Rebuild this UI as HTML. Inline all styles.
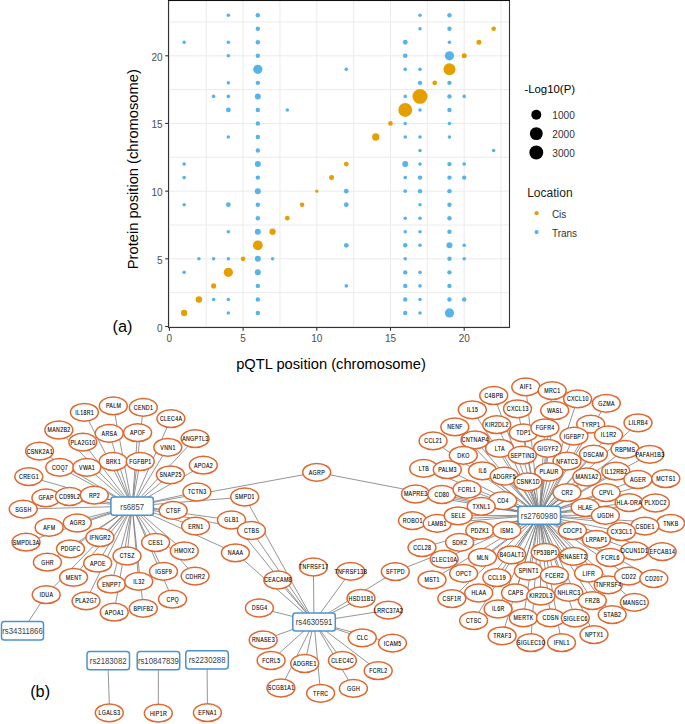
<!DOCTYPE html>
<html><head><meta charset="utf-8"><style>
html,body{margin:0;padding:0;background:#fff;}
body{width:685px;height:724px;overflow:hidden;}
svg{display:block;font-family:"Liberation Sans",sans-serif;}
</style></head><body>
<svg width="685" height="724" viewBox="0 0 685 724">
<rect x="168.5" y="0.5" width="341.0" height="327.0" fill="#fff"/>
<g stroke="#EBEBEB" stroke-width="1"><line x1="169.40" y1="0.5" x2="169.40" y2="327.5"/><line x1="206.25" y1="0.5" x2="206.25" y2="327.5"/><line x1="243.10" y1="0.5" x2="243.10" y2="327.5"/><line x1="279.95" y1="0.5" x2="279.95" y2="327.5"/><line x1="316.80" y1="0.5" x2="316.80" y2="327.5"/><line x1="353.65" y1="0.5" x2="353.65" y2="327.5"/><line x1="390.50" y1="0.5" x2="390.50" y2="327.5"/><line x1="427.35" y1="0.5" x2="427.35" y2="327.5"/><line x1="464.20" y1="0.5" x2="464.20" y2="327.5"/><line x1="501.05" y1="0.5" x2="501.05" y2="327.5"/><line x1="168.5" y1="326.50" x2="509.5" y2="326.50"/><line x1="168.5" y1="292.66" x2="509.5" y2="292.66"/><line x1="168.5" y1="258.82" x2="509.5" y2="258.82"/><line x1="168.5" y1="224.99" x2="509.5" y2="224.99"/><line x1="168.5" y1="191.15" x2="509.5" y2="191.15"/><line x1="168.5" y1="157.31" x2="509.5" y2="157.31"/><line x1="168.5" y1="123.47" x2="509.5" y2="123.47"/><line x1="168.5" y1="89.64" x2="509.5" y2="89.64"/><line x1="168.5" y1="55.80" x2="509.5" y2="55.80"/><line x1="168.5" y1="21.96" x2="509.5" y2="21.96"/></g>
<circle cx="184.14" cy="42.26" r="1.80" fill="#56B4E9"/><circle cx="184.14" cy="164.08" r="1.80" fill="#56B4E9"/><circle cx="184.14" cy="177.62" r="1.80" fill="#56B4E9"/><circle cx="184.14" cy="204.69" r="1.80" fill="#56B4E9"/><circle cx="184.14" cy="272.36" r="1.80" fill="#56B4E9"/><circle cx="198.88" cy="258.82" r="1.80" fill="#56B4E9"/><circle cx="213.62" cy="96.41" r="1.80" fill="#56B4E9"/><circle cx="213.62" cy="258.82" r="1.80" fill="#56B4E9"/><circle cx="213.62" cy="299.43" r="1.80" fill="#56B4E9"/><circle cx="228.36" cy="15.19" r="1.80" fill="#56B4E9"/><circle cx="228.36" cy="42.26" r="1.80" fill="#56B4E9"/><circle cx="228.36" cy="55.80" r="1.80" fill="#56B4E9"/><circle cx="228.36" cy="82.87" r="1.80" fill="#56B4E9"/><circle cx="228.36" cy="96.41" r="1.80" fill="#56B4E9"/><circle cx="228.36" cy="109.94" r="2.40" fill="#56B4E9"/><circle cx="228.36" cy="137.01" r="1.80" fill="#56B4E9"/><circle cx="228.36" cy="204.69" r="2.40" fill="#56B4E9"/><circle cx="228.36" cy="231.75" r="1.80" fill="#56B4E9"/><circle cx="228.36" cy="258.82" r="1.80" fill="#56B4E9"/><circle cx="228.36" cy="299.43" r="1.80" fill="#56B4E9"/><circle cx="228.36" cy="312.96" r="1.80" fill="#56B4E9"/><circle cx="257.84" cy="15.19" r="2.20" fill="#56B4E9"/><circle cx="257.84" cy="28.73" r="2.20" fill="#56B4E9"/><circle cx="257.84" cy="42.26" r="2.20" fill="#56B4E9"/><circle cx="257.84" cy="55.80" r="2.20" fill="#56B4E9"/><circle cx="257.84" cy="69.33" r="4.60" fill="#56B4E9"/><circle cx="257.84" cy="82.87" r="2.20" fill="#56B4E9"/><circle cx="257.84" cy="96.41" r="3.00" fill="#56B4E9"/><circle cx="257.84" cy="109.94" r="2.20" fill="#56B4E9"/><circle cx="257.84" cy="123.47" r="2.20" fill="#56B4E9"/><circle cx="257.84" cy="137.01" r="2.20" fill="#56B4E9"/><circle cx="257.84" cy="150.54" r="2.20" fill="#56B4E9"/><circle cx="257.84" cy="164.08" r="3.00" fill="#56B4E9"/><circle cx="257.84" cy="177.62" r="2.20" fill="#56B4E9"/><circle cx="257.84" cy="191.15" r="3.00" fill="#56B4E9"/><circle cx="257.84" cy="204.69" r="2.20" fill="#56B4E9"/><circle cx="257.84" cy="218.22" r="2.20" fill="#56B4E9"/><circle cx="257.84" cy="231.75" r="3.00" fill="#56B4E9"/><circle cx="257.84" cy="258.82" r="3.00" fill="#56B4E9"/><circle cx="257.84" cy="272.36" r="3.00" fill="#56B4E9"/><circle cx="257.84" cy="285.89" r="2.20" fill="#56B4E9"/><circle cx="257.84" cy="299.43" r="2.20" fill="#56B4E9"/><circle cx="257.84" cy="312.96" r="2.20" fill="#56B4E9"/><circle cx="272.58" cy="258.82" r="1.80" fill="#56B4E9"/><circle cx="287.32" cy="109.94" r="1.80" fill="#56B4E9"/><circle cx="346.28" cy="69.33" r="1.80" fill="#56B4E9"/><circle cx="346.28" cy="191.15" r="2.35" fill="#56B4E9"/><circle cx="346.28" cy="204.69" r="2.35" fill="#56B4E9"/><circle cx="346.28" cy="245.29" r="2.35" fill="#56B4E9"/><circle cx="346.28" cy="285.89" r="1.80" fill="#56B4E9"/><circle cx="405.24" cy="42.26" r="2.40" fill="#56B4E9"/><circle cx="405.24" cy="55.80" r="2.30" fill="#56B4E9"/><circle cx="405.24" cy="69.33" r="1.80" fill="#56B4E9"/><circle cx="405.24" cy="96.41" r="1.80" fill="#56B4E9"/><circle cx="405.24" cy="123.47" r="1.80" fill="#56B4E9"/><circle cx="405.24" cy="137.01" r="1.80" fill="#56B4E9"/><circle cx="405.24" cy="164.08" r="3.00" fill="#56B4E9"/><circle cx="405.24" cy="177.62" r="1.80" fill="#56B4E9"/><circle cx="405.24" cy="191.15" r="1.80" fill="#56B4E9"/><circle cx="405.24" cy="218.22" r="1.80" fill="#56B4E9"/><circle cx="405.24" cy="231.75" r="1.80" fill="#56B4E9"/><circle cx="405.24" cy="245.29" r="2.20" fill="#56B4E9"/><circle cx="405.24" cy="258.82" r="1.80" fill="#56B4E9"/><circle cx="405.24" cy="272.36" r="2.20" fill="#56B4E9"/><circle cx="405.24" cy="285.89" r="2.20" fill="#56B4E9"/><circle cx="405.24" cy="299.43" r="2.20" fill="#56B4E9"/><circle cx="405.24" cy="312.96" r="2.20" fill="#56B4E9"/><circle cx="419.98" cy="15.19" r="1.80" fill="#56B4E9"/><circle cx="419.98" cy="28.73" r="1.80" fill="#56B4E9"/><circle cx="419.98" cy="69.33" r="1.80" fill="#56B4E9"/><circle cx="419.98" cy="82.87" r="2.20" fill="#56B4E9"/><circle cx="419.98" cy="109.94" r="1.80" fill="#56B4E9"/><circle cx="419.98" cy="137.01" r="1.80" fill="#56B4E9"/><circle cx="419.98" cy="150.54" r="1.80" fill="#56B4E9"/><circle cx="419.98" cy="164.08" r="1.80" fill="#56B4E9"/><circle cx="419.98" cy="177.62" r="2.20" fill="#56B4E9"/><circle cx="419.98" cy="191.15" r="2.20" fill="#56B4E9"/><circle cx="419.98" cy="204.69" r="1.80" fill="#56B4E9"/><circle cx="419.98" cy="218.22" r="1.80" fill="#56B4E9"/><circle cx="419.98" cy="231.75" r="1.80" fill="#56B4E9"/><circle cx="419.98" cy="245.29" r="1.80" fill="#56B4E9"/><circle cx="419.98" cy="272.36" r="1.80" fill="#56B4E9"/><circle cx="419.98" cy="285.89" r="1.80" fill="#56B4E9"/><circle cx="419.98" cy="299.43" r="1.80" fill="#56B4E9"/><circle cx="419.98" cy="312.96" r="1.80" fill="#56B4E9"/><circle cx="449.46" cy="15.19" r="2.20" fill="#56B4E9"/><circle cx="449.46" cy="28.73" r="2.20" fill="#56B4E9"/><circle cx="449.46" cy="42.26" r="1.80" fill="#56B4E9"/><circle cx="449.46" cy="55.80" r="4.60" fill="#56B4E9"/><circle cx="449.46" cy="82.87" r="2.20" fill="#56B4E9"/><circle cx="449.46" cy="96.41" r="2.20" fill="#56B4E9"/><circle cx="449.46" cy="109.94" r="2.20" fill="#56B4E9"/><circle cx="449.46" cy="123.47" r="1.80" fill="#56B4E9"/><circle cx="449.46" cy="137.01" r="1.80" fill="#56B4E9"/><circle cx="449.46" cy="164.08" r="2.20" fill="#56B4E9"/><circle cx="449.46" cy="177.62" r="2.20" fill="#56B4E9"/><circle cx="449.46" cy="191.15" r="2.20" fill="#56B4E9"/><circle cx="449.46" cy="204.69" r="2.20" fill="#56B4E9"/><circle cx="449.46" cy="218.22" r="2.20" fill="#56B4E9"/><circle cx="449.46" cy="231.75" r="2.20" fill="#56B4E9"/><circle cx="449.46" cy="245.29" r="3.00" fill="#56B4E9"/><circle cx="449.46" cy="258.82" r="2.20" fill="#56B4E9"/><circle cx="449.46" cy="272.36" r="2.20" fill="#56B4E9"/><circle cx="449.46" cy="285.89" r="2.20" fill="#56B4E9"/><circle cx="449.46" cy="299.43" r="2.20" fill="#56B4E9"/><circle cx="449.46" cy="312.96" r="4.60" fill="#56B4E9"/><circle cx="464.20" cy="96.41" r="1.80" fill="#56B4E9"/><circle cx="464.20" cy="164.08" r="1.80" fill="#56B4E9"/><circle cx="464.20" cy="177.62" r="2.20" fill="#56B4E9"/><circle cx="464.20" cy="245.29" r="1.80" fill="#56B4E9"/><circle cx="464.20" cy="258.82" r="1.80" fill="#56B4E9"/><circle cx="464.20" cy="299.43" r="2.20" fill="#56B4E9"/><circle cx="493.68" cy="150.54" r="1.80" fill="#56B4E9"/><circle cx="184.14" cy="312.96" r="3.15" fill="#E69F00"/><circle cx="198.88" cy="299.43" r="3.25" fill="#E69F00"/><circle cx="213.62" cy="285.89" r="2.55" fill="#E69F00"/><circle cx="228.36" cy="272.36" r="4.60" fill="#E69F00"/><circle cx="243.10" cy="258.82" r="2.35" fill="#E69F00"/><circle cx="257.84" cy="245.29" r="4.90" fill="#E69F00"/><circle cx="272.58" cy="231.75" r="3.15" fill="#E69F00"/><circle cx="287.32" cy="218.22" r="2.35" fill="#E69F00"/><circle cx="302.06" cy="204.69" r="2.30" fill="#E69F00"/><circle cx="316.80" cy="191.15" r="1.65" fill="#E69F00"/><circle cx="331.54" cy="177.62" r="2.50" fill="#E69F00"/><circle cx="346.28" cy="164.08" r="2.40" fill="#E69F00"/><circle cx="375.76" cy="137.01" r="3.65" fill="#E69F00"/><circle cx="390.50" cy="123.47" r="2.35" fill="#E69F00"/><circle cx="405.24" cy="109.94" r="6.95" fill="#E69F00"/><circle cx="419.98" cy="96.41" r="7.45" fill="#E69F00"/><circle cx="434.72" cy="82.87" r="2.35" fill="#E69F00"/><circle cx="449.46" cy="69.33" r="6.00" fill="#E69F00"/><circle cx="464.20" cy="55.80" r="2.50" fill="#E69F00"/><circle cx="478.94" cy="42.26" r="2.50" fill="#E69F00"/><circle cx="493.68" cy="28.73" r="2.30" fill="#E69F00"/>
<rect x="168.5" y="0.5" width="341.0" height="327.0" fill="none" stroke="#333" stroke-width="1.1"/>
<line x1="168.0" y1="0.5" x2="510.0" y2="0.5" stroke="#111" stroke-width="1.2"/>
<g stroke="#333" stroke-width="1.1"><line x1="165.2" y1="326.50" x2="168.5" y2="326.50"/><line x1="169.40" y1="327.5" x2="169.40" y2="330.70"/><line x1="165.2" y1="258.82" x2="168.5" y2="258.82"/><line x1="243.10" y1="327.5" x2="243.10" y2="330.70"/><line x1="165.2" y1="191.15" x2="168.5" y2="191.15"/><line x1="316.80" y1="327.5" x2="316.80" y2="330.70"/><line x1="165.2" y1="123.47" x2="168.5" y2="123.47"/><line x1="390.50" y1="327.5" x2="390.50" y2="330.70"/><line x1="165.2" y1="55.80" x2="168.5" y2="55.80"/><line x1="464.20" y1="327.5" x2="464.20" y2="330.70"/></g>
<g font-size="10px" fill="#4D4D4D"><text x="162.6" y="331.50" text-anchor="end">0</text><text x="169.40" y="342" text-anchor="middle">0</text><text x="162.6" y="263.82" text-anchor="end">5</text><text x="243.10" y="342" text-anchor="middle">5</text><text x="162.6" y="196.15" text-anchor="end">10</text><text x="316.80" y="342" text-anchor="middle">10</text><text x="162.6" y="128.47" text-anchor="end">15</text><text x="390.50" y="342" text-anchor="middle">15</text><text x="162.6" y="60.80" text-anchor="end">20</text><text x="464.20" y="342" text-anchor="middle">20</text></g>
<text x="331" y="368.8" text-anchor="middle" font-size="14.7px" fill="#000">pQTL position (chromosome)</text>
<text transform="translate(138.2,169.2) rotate(-90)" text-anchor="middle" font-size="14.7px" fill="#000">Protein position (chromosome)</text>
<text x="112.6" y="332.2" font-size="16.3px" fill="#000">(a)</text>
<text x="30.2" y="697" font-size="16.3px" fill="#000">(b)</text>
<text x="524.4" y="93.4" font-size="11.4px" fill="#000">-Log10(P)</text>
<circle cx="536.3" cy="114.7" r="5.0" fill="#000"/>
<text x="552.3" y="119.0" font-size="10.1px" fill="#333">1000</text>
<circle cx="536.3" cy="133.6" r="6.45" fill="#000"/>
<text x="552.3" y="137.9" font-size="10.1px" fill="#333">2000</text>
<circle cx="536.3" cy="152.5" r="6.95" fill="#000"/>
<text x="552.3" y="156.8" font-size="10.1px" fill="#333">3000</text>
<text x="527.2" y="197.4" font-size="12px" fill="#222">Location</text>
<circle cx="536.6" cy="213.2" r="2.1" fill="#E69F00"/>
<circle cx="536.6" cy="232.1" r="2.1" fill="#56B4E9"/>
<text x="551.9" y="217.7" font-size="10px" fill="#333">Cis</text>
<text x="551.9" y="236.6" font-size="10px" fill="#333">Trans</text>
<g stroke="#7a7a7a" stroke-width="0.8"><line x1="132.2" y1="506.2" x2="84.4" y2="412.3"/><line x1="132.2" y1="506.2" x2="113.3" y2="405.9"/><line x1="132.2" y1="506.2" x2="143.3" y2="407.4"/><line x1="132.2" y1="506.2" x2="170.9" y2="418.6"/><line x1="132.2" y1="506.2" x2="58.8" y2="430.0"/><line x1="132.2" y1="506.2" x2="109.2" y2="433.4"/><line x1="132.2" y1="506.2" x2="137.6" y2="432.7"/><line x1="132.2" y1="506.2" x2="82.8" y2="442.1"/><line x1="132.2" y1="506.2" x2="167.8" y2="447.3"/><line x1="132.2" y1="506.2" x2="195.1" y2="438.6"/><line x1="132.2" y1="506.2" x2="39.6" y2="451.1"/><line x1="132.2" y1="506.2" x2="113.2" y2="461.5"/><line x1="132.2" y1="506.2" x2="140.2" y2="461.5"/><line x1="132.2" y1="506.2" x2="59.8" y2="467.4"/><line x1="132.2" y1="506.2" x2="86.9" y2="467.4"/><line x1="132.2" y1="506.2" x2="203.3" y2="465.2"/><line x1="132.2" y1="506.2" x2="170.4" y2="474.8"/><line x1="132.2" y1="506.2" x2="28.8" y2="476.6"/><line x1="132.2" y1="506.2" x2="196.9" y2="492.0"/><line x1="132.2" y1="506.2" x2="45.9" y2="497.9"/><line x1="132.2" y1="506.2" x2="69.5" y2="496.5"/><line x1="132.2" y1="506.2" x2="94.3" y2="495.2"/><line x1="132.2" y1="506.2" x2="23.2" y2="509.1"/><line x1="132.2" y1="506.2" x2="173.2" y2="510.4"/><line x1="132.2" y1="506.2" x2="49.1" y2="527.4"/><line x1="132.2" y1="506.2" x2="77.3" y2="523.0"/><line x1="132.2" y1="506.2" x2="195.6" y2="526.1"/><line x1="132.2" y1="506.2" x2="26.0" y2="542.2"/><line x1="132.2" y1="506.2" x2="99.9" y2="537.5"/><line x1="132.2" y1="506.2" x2="155.6" y2="542.5"/><line x1="132.2" y1="506.2" x2="70.5" y2="548.8"/><line x1="132.2" y1="506.2" x2="184.3" y2="551.0"/><line x1="132.2" y1="506.2" x2="47.4" y2="562.2"/><line x1="132.2" y1="506.2" x2="127.0" y2="556.0"/><line x1="132.2" y1="506.2" x2="97.7" y2="563.2"/><line x1="132.2" y1="506.2" x2="163.5" y2="571.4"/><line x1="132.2" y1="506.2" x2="195.1" y2="576.1"/><line x1="132.2" y1="506.2" x2="73.6" y2="577.3"/><line x1="132.2" y1="506.2" x2="111.4" y2="584.2"/><line x1="132.2" y1="506.2" x2="138.7" y2="581.4"/><line x1="132.2" y1="506.2" x2="46.2" y2="594.7"/><line x1="132.2" y1="506.2" x2="172.5" y2="599.2"/><line x1="132.2" y1="506.2" x2="86.0" y2="600.9"/><line x1="132.2" y1="506.2" x2="143.3" y2="608.4"/><line x1="132.2" y1="506.2" x2="114.2" y2="612.2"/><line x1="132.2" y1="506.2" x2="244.7" y2="497.0"/><line x1="132.2" y1="506.2" x2="231.5" y2="520.0"/><line x1="132.2" y1="506.2" x2="251.4" y2="530.5"/><line x1="132.2" y1="506.2" x2="235.4" y2="552.8"/><line x1="132.2" y1="506.2" x2="316.7" y2="472.3"/><line x1="314.0" y1="621.9" x2="313.4" y2="567.0"/><line x1="314.0" y1="621.9" x2="350.7" y2="571.4"/><line x1="314.0" y1="621.9" x2="277.8" y2="580.0"/><line x1="314.0" y1="621.9" x2="361.0" y2="598.3"/><line x1="314.0" y1="621.9" x2="259.4" y2="608.0"/><line x1="314.0" y1="621.9" x2="388.3" y2="610.1"/><line x1="314.0" y1="621.9" x2="263.2" y2="640.0"/><line x1="314.0" y1="621.9" x2="362.3" y2="637.8"/><line x1="314.0" y1="621.9" x2="392.5" y2="643.1"/><line x1="314.0" y1="621.9" x2="271.1" y2="660.5"/><line x1="314.0" y1="621.9" x2="304.7" y2="663.5"/><line x1="314.0" y1="621.9" x2="342.4" y2="660.5"/><line x1="314.0" y1="621.9" x2="378.2" y2="670.7"/><line x1="314.0" y1="621.9" x2="280.9" y2="688.0"/><line x1="314.0" y1="621.9" x2="320.6" y2="693.3"/><line x1="314.0" y1="621.9" x2="353.4" y2="688.4"/><line x1="314.0" y1="621.9" x2="244.7" y2="497.0"/><line x1="314.0" y1="621.9" x2="231.5" y2="520.0"/><line x1="314.0" y1="621.9" x2="251.4" y2="530.5"/><line x1="314.0" y1="621.9" x2="235.4" y2="552.8"/><line x1="314.0" y1="621.9" x2="395.3" y2="571.6"/><line x1="539.2" y1="515.2" x2="525.8" y2="386.9"/><line x1="539.2" y1="515.2" x2="552.2" y2="390.6"/><line x1="539.2" y1="515.2" x2="493.7" y2="395.5"/><line x1="539.2" y1="515.2" x2="577.6" y2="398.9"/><line x1="539.2" y1="515.2" x2="606.3" y2="403.3"/><line x1="539.2" y1="515.2" x2="472.3" y2="409.8"/><line x1="539.2" y1="515.2" x2="517.5" y2="408.8"/><line x1="539.2" y1="515.2" x2="554.7" y2="410.5"/><line x1="539.2" y1="515.2" x2="454.8" y2="426.9"/><line x1="539.2" y1="515.2" x2="496.7" y2="424.7"/><line x1="539.2" y1="515.2" x2="523.4" y2="432.9"/><line x1="539.2" y1="515.2" x2="544.9" y2="427.9"/><line x1="539.2" y1="515.2" x2="590.7" y2="424.1"/><line x1="539.2" y1="515.2" x2="608.5" y2="435.0"/><line x1="539.2" y1="515.2" x2="638.0" y2="422.8"/><line x1="539.2" y1="515.2" x2="433.1" y2="440.9"/><line x1="539.2" y1="515.2" x2="475.0" y2="439.8"/><line x1="539.2" y1="515.2" x2="573.9" y2="436.1"/><line x1="539.2" y1="515.2" x2="499.6" y2="448.3"/><line x1="539.2" y1="515.2" x2="547.6" y2="448.3"/><line x1="539.2" y1="515.2" x2="522.3" y2="455.2"/><line x1="539.2" y1="515.2" x2="593.5" y2="454.1"/><line x1="539.2" y1="515.2" x2="625.0" y2="449.3"/><line x1="539.2" y1="515.2" x2="649.8" y2="454.3"/><line x1="539.2" y1="515.2" x2="463.3" y2="455.3"/><line x1="539.2" y1="515.2" x2="567.0" y2="461.2"/><line x1="539.2" y1="515.2" x2="423.7" y2="468.4"/><line x1="539.2" y1="515.2" x2="447.3" y2="469.7"/><line x1="539.2" y1="515.2" x2="482.5" y2="470.8"/><line x1="539.2" y1="515.2" x2="504.1" y2="476.1"/><line x1="539.2" y1="515.2" x2="548.8" y2="472.0"/><line x1="539.2" y1="515.2" x2="527.9" y2="481.8"/><line x1="539.2" y1="515.2" x2="586.8" y2="477.0"/><line x1="539.2" y1="515.2" x2="615.8" y2="471.2"/><line x1="539.2" y1="515.2" x2="637.9" y2="479.5"/><line x1="539.2" y1="515.2" x2="665.8" y2="478.7"/><line x1="539.2" y1="515.2" x2="415.5" y2="494.0"/><line x1="539.2" y1="515.2" x2="441.8" y2="494.5"/><line x1="539.2" y1="515.2" x2="467.0" y2="489.4"/><line x1="539.2" y1="515.2" x2="502.7" y2="500.6"/><line x1="539.2" y1="515.2" x2="567.0" y2="492.6"/><line x1="539.2" y1="515.2" x2="606.2" y2="492.6"/><line x1="539.2" y1="515.2" x2="629.1" y2="502.6"/><line x1="539.2" y1="515.2" x2="655.4" y2="503.0"/><line x1="539.2" y1="515.2" x2="481.2" y2="506.4"/><line x1="539.2" y1="515.2" x2="585.2" y2="507.5"/><line x1="539.2" y1="515.2" x2="605.4" y2="515.4"/><line x1="539.2" y1="515.2" x2="670.6" y2="523.3"/><line x1="539.2" y1="515.2" x2="644.9" y2="526.1"/><line x1="539.2" y1="515.2" x2="412.5" y2="520.6"/><line x1="539.2" y1="515.2" x2="437.2" y2="523.4"/><line x1="539.2" y1="515.2" x2="458.2" y2="515.8"/><line x1="539.2" y1="515.2" x2="479.8" y2="530.4"/><line x1="539.2" y1="515.2" x2="506.8" y2="530.4"/><line x1="539.2" y1="515.2" x2="572.5" y2="530.7"/><line x1="539.2" y1="515.2" x2="621.4" y2="531.7"/><line x1="539.2" y1="515.2" x2="596.4" y2="539.4"/><line x1="539.2" y1="515.2" x2="634.4" y2="551.0"/><line x1="539.2" y1="515.2" x2="662.2" y2="551.6"/><line x1="539.2" y1="515.2" x2="459.6" y2="542.4"/><line x1="539.2" y1="515.2" x2="422.0" y2="547.6"/><line x1="539.2" y1="515.2" x2="444.2" y2="559.1"/><line x1="539.2" y1="515.2" x2="482.5" y2="557.3"/><line x1="539.2" y1="515.2" x2="511.7" y2="554.8"/><line x1="539.2" y1="515.2" x2="545.2" y2="552.3"/><line x1="539.2" y1="515.2" x2="573.4" y2="556.3"/><line x1="539.2" y1="515.2" x2="610.3" y2="557.5"/><line x1="539.2" y1="515.2" x2="432.0" y2="579.8"/><line x1="539.2" y1="515.2" x2="463.6" y2="573.4"/><line x1="539.2" y1="515.2" x2="496.8" y2="577.6"/><line x1="539.2" y1="515.2" x2="528.4" y2="571.0"/><line x1="539.2" y1="515.2" x2="554.4" y2="575.4"/><line x1="539.2" y1="515.2" x2="588.6" y2="573.2"/><line x1="539.2" y1="515.2" x2="608.2" y2="584.9"/><line x1="539.2" y1="515.2" x2="628.6" y2="576.1"/><line x1="539.2" y1="515.2" x2="653.8" y2="578.6"/><line x1="539.2" y1="515.2" x2="451.8" y2="598.6"/><line x1="539.2" y1="515.2" x2="478.7" y2="593.0"/><line x1="539.2" y1="515.2" x2="515.5" y2="593.0"/><line x1="539.2" y1="515.2" x2="540.8" y2="596.0"/><line x1="539.2" y1="515.2" x2="568.7" y2="592.4"/><line x1="539.2" y1="515.2" x2="592.3" y2="600.6"/><line x1="539.2" y1="515.2" x2="634.4" y2="602.4"/><line x1="539.2" y1="515.2" x2="612.2" y2="614.6"/><line x1="539.2" y1="515.2" x2="498.1" y2="609.0"/><line x1="539.2" y1="515.2" x2="473.6" y2="620.6"/><line x1="539.2" y1="515.2" x2="523.4" y2="617.9"/><line x1="539.2" y1="515.2" x2="550.5" y2="617.9"/><line x1="539.2" y1="515.2" x2="575.3" y2="618.1"/><line x1="539.2" y1="515.2" x2="594.0" y2="634.6"/><line x1="539.2" y1="515.2" x2="502.1" y2="635.8"/><line x1="539.2" y1="515.2" x2="530.8" y2="642.7"/><line x1="539.2" y1="515.2" x2="561.5" y2="642.7"/><line x1="539.2" y1="515.2" x2="316.7" y2="472.3"/><line x1="539.2" y1="515.2" x2="395.3" y2="571.6"/><line x1="22.5" y1="630.7" x2="46.2" y2="594.7"/><line x1="108.2" y1="670.2" x2="109.3" y2="704.0"/><line x1="158.4" y1="670.2" x2="158.3" y2="704.2"/><line x1="207.1" y1="669.3" x2="207.4" y2="703.8"/></g>
<g fill="#fff" stroke="#DE6830" stroke-width="1.5"><ellipse cx="84.4" cy="412.3" rx="13.95" ry="8.90"/><ellipse cx="113.3" cy="405.9" rx="13.95" ry="8.90"/><ellipse cx="143.3" cy="407.4" rx="13.95" ry="8.90"/><ellipse cx="170.9" cy="418.6" rx="13.95" ry="8.90"/><ellipse cx="58.8" cy="430.0" rx="13.95" ry="8.90"/><ellipse cx="109.2" cy="433.4" rx="13.95" ry="8.90"/><ellipse cx="137.6" cy="432.7" rx="13.95" ry="8.90"/><ellipse cx="82.8" cy="442.1" rx="13.95" ry="8.90"/><ellipse cx="167.8" cy="447.3" rx="13.95" ry="8.90"/><ellipse cx="195.1" cy="438.6" rx="13.95" ry="8.90"/><ellipse cx="39.6" cy="451.1" rx="13.95" ry="8.90"/><ellipse cx="113.2" cy="461.5" rx="13.95" ry="8.90"/><ellipse cx="140.2" cy="461.5" rx="13.95" ry="8.90"/><ellipse cx="59.8" cy="467.4" rx="13.95" ry="8.90"/><ellipse cx="86.9" cy="467.4" rx="13.95" ry="8.90"/><ellipse cx="203.3" cy="465.2" rx="13.95" ry="8.90"/><ellipse cx="170.4" cy="474.8" rx="13.95" ry="8.90"/><ellipse cx="28.8" cy="476.6" rx="13.95" ry="8.90"/><ellipse cx="196.9" cy="492.0" rx="13.95" ry="8.90"/><ellipse cx="45.9" cy="497.9" rx="13.95" ry="8.90"/><ellipse cx="69.5" cy="496.5" rx="13.95" ry="8.90"/><ellipse cx="94.3" cy="495.2" rx="13.95" ry="8.90"/><ellipse cx="23.2" cy="509.1" rx="13.95" ry="8.90"/><ellipse cx="173.2" cy="510.4" rx="13.95" ry="8.90"/><ellipse cx="49.1" cy="527.4" rx="13.95" ry="8.90"/><ellipse cx="77.3" cy="523.0" rx="13.95" ry="8.90"/><ellipse cx="195.6" cy="526.1" rx="13.95" ry="8.90"/><ellipse cx="26.0" cy="542.2" rx="13.95" ry="8.90"/><ellipse cx="99.9" cy="537.5" rx="13.95" ry="8.90"/><ellipse cx="155.6" cy="542.5" rx="13.95" ry="8.90"/><ellipse cx="70.5" cy="548.8" rx="13.95" ry="8.90"/><ellipse cx="184.3" cy="551.0" rx="13.95" ry="8.90"/><ellipse cx="47.4" cy="562.2" rx="13.95" ry="8.90"/><ellipse cx="127.0" cy="556.0" rx="13.95" ry="8.90"/><ellipse cx="97.7" cy="563.2" rx="13.95" ry="8.90"/><ellipse cx="163.5" cy="571.4" rx="13.95" ry="8.90"/><ellipse cx="195.1" cy="576.1" rx="13.95" ry="8.90"/><ellipse cx="73.6" cy="577.3" rx="13.95" ry="8.90"/><ellipse cx="111.4" cy="584.2" rx="13.95" ry="8.90"/><ellipse cx="138.7" cy="581.4" rx="13.95" ry="8.90"/><ellipse cx="46.2" cy="594.7" rx="13.95" ry="8.90"/><ellipse cx="172.5" cy="599.2" rx="13.95" ry="8.90"/><ellipse cx="86.0" cy="600.9" rx="13.95" ry="8.90"/><ellipse cx="143.3" cy="608.4" rx="13.95" ry="8.90"/><ellipse cx="114.2" cy="612.2" rx="13.95" ry="8.90"/><ellipse cx="244.7" cy="497.0" rx="13.95" ry="8.90"/><ellipse cx="231.5" cy="520.0" rx="13.95" ry="8.90"/><ellipse cx="251.4" cy="530.5" rx="13.95" ry="8.90"/><ellipse cx="235.4" cy="552.8" rx="13.95" ry="8.90"/><ellipse cx="316.7" cy="472.3" rx="13.95" ry="8.90"/><ellipse cx="313.4" cy="567.0" rx="13.95" ry="8.90"/><ellipse cx="350.7" cy="571.4" rx="13.95" ry="8.90"/><ellipse cx="277.8" cy="580.0" rx="13.95" ry="8.90"/><ellipse cx="361.0" cy="598.3" rx="13.95" ry="8.90"/><ellipse cx="259.4" cy="608.0" rx="13.95" ry="8.90"/><ellipse cx="388.3" cy="610.1" rx="13.95" ry="8.90"/><ellipse cx="263.2" cy="640.0" rx="13.95" ry="8.90"/><ellipse cx="362.3" cy="637.8" rx="13.95" ry="8.90"/><ellipse cx="392.5" cy="643.1" rx="13.95" ry="8.90"/><ellipse cx="271.1" cy="660.5" rx="13.95" ry="8.90"/><ellipse cx="304.7" cy="663.5" rx="13.95" ry="8.90"/><ellipse cx="342.4" cy="660.5" rx="13.95" ry="8.90"/><ellipse cx="378.2" cy="670.7" rx="13.95" ry="8.90"/><ellipse cx="280.9" cy="688.0" rx="13.95" ry="8.90"/><ellipse cx="320.6" cy="693.3" rx="13.95" ry="8.90"/><ellipse cx="353.4" cy="688.4" rx="13.95" ry="8.90"/><ellipse cx="395.3" cy="571.6" rx="13.95" ry="8.90"/><ellipse cx="525.8" cy="386.9" rx="13.95" ry="8.90"/><ellipse cx="552.2" cy="390.6" rx="13.95" ry="8.90"/><ellipse cx="493.7" cy="395.5" rx="13.95" ry="8.90"/><ellipse cx="577.6" cy="398.9" rx="13.95" ry="8.90"/><ellipse cx="606.3" cy="403.3" rx="13.95" ry="8.90"/><ellipse cx="472.3" cy="409.8" rx="13.95" ry="8.90"/><ellipse cx="517.5" cy="408.8" rx="13.95" ry="8.90"/><ellipse cx="554.7" cy="410.5" rx="13.95" ry="8.90"/><ellipse cx="454.8" cy="426.9" rx="13.95" ry="8.90"/><ellipse cx="496.7" cy="424.7" rx="13.95" ry="8.90"/><ellipse cx="523.4" cy="432.9" rx="13.95" ry="8.90"/><ellipse cx="544.9" cy="427.9" rx="13.95" ry="8.90"/><ellipse cx="590.7" cy="424.1" rx="13.95" ry="8.90"/><ellipse cx="608.5" cy="435.0" rx="13.95" ry="8.90"/><ellipse cx="638.0" cy="422.8" rx="13.95" ry="8.90"/><ellipse cx="433.1" cy="440.9" rx="13.95" ry="8.90"/><ellipse cx="475.0" cy="439.8" rx="13.95" ry="8.90"/><ellipse cx="573.9" cy="436.1" rx="13.95" ry="8.90"/><ellipse cx="499.6" cy="448.3" rx="13.95" ry="8.90"/><ellipse cx="547.6" cy="448.3" rx="13.95" ry="8.90"/><ellipse cx="522.3" cy="455.2" rx="13.95" ry="8.90"/><ellipse cx="593.5" cy="454.1" rx="13.95" ry="8.90"/><ellipse cx="625.0" cy="449.3" rx="13.95" ry="8.90"/><ellipse cx="649.8" cy="454.3" rx="13.95" ry="8.90"/><ellipse cx="463.3" cy="455.3" rx="13.95" ry="8.90"/><ellipse cx="567.0" cy="461.2" rx="13.95" ry="8.90"/><ellipse cx="423.7" cy="468.4" rx="13.95" ry="8.90"/><ellipse cx="447.3" cy="469.7" rx="13.95" ry="8.90"/><ellipse cx="482.5" cy="470.8" rx="13.95" ry="8.90"/><ellipse cx="504.1" cy="476.1" rx="13.95" ry="8.90"/><ellipse cx="548.8" cy="472.0" rx="13.95" ry="8.90"/><ellipse cx="527.9" cy="481.8" rx="13.95" ry="8.90"/><ellipse cx="586.8" cy="477.0" rx="13.95" ry="8.90"/><ellipse cx="615.8" cy="471.2" rx="13.95" ry="8.90"/><ellipse cx="637.9" cy="479.5" rx="13.95" ry="8.90"/><ellipse cx="665.8" cy="478.7" rx="13.95" ry="8.90"/><ellipse cx="415.5" cy="494.0" rx="13.95" ry="8.90"/><ellipse cx="441.8" cy="494.5" rx="13.95" ry="8.90"/><ellipse cx="467.0" cy="489.4" rx="13.95" ry="8.90"/><ellipse cx="502.7" cy="500.6" rx="13.95" ry="8.90"/><ellipse cx="567.0" cy="492.6" rx="13.95" ry="8.90"/><ellipse cx="606.2" cy="492.6" rx="13.95" ry="8.90"/><ellipse cx="629.1" cy="502.6" rx="13.95" ry="8.90"/><ellipse cx="655.4" cy="503.0" rx="13.95" ry="8.90"/><ellipse cx="481.2" cy="506.4" rx="13.95" ry="8.90"/><ellipse cx="585.2" cy="507.5" rx="13.95" ry="8.90"/><ellipse cx="605.4" cy="515.4" rx="13.95" ry="8.90"/><ellipse cx="670.6" cy="523.3" rx="13.95" ry="8.90"/><ellipse cx="644.9" cy="526.1" rx="13.95" ry="8.90"/><ellipse cx="412.5" cy="520.6" rx="13.95" ry="8.90"/><ellipse cx="437.2" cy="523.4" rx="13.95" ry="8.90"/><ellipse cx="458.2" cy="515.8" rx="13.95" ry="8.90"/><ellipse cx="479.8" cy="530.4" rx="13.95" ry="8.90"/><ellipse cx="506.8" cy="530.4" rx="13.95" ry="8.90"/><ellipse cx="572.5" cy="530.7" rx="13.95" ry="8.90"/><ellipse cx="621.4" cy="531.7" rx="13.95" ry="8.90"/><ellipse cx="596.4" cy="539.4" rx="13.95" ry="8.90"/><ellipse cx="634.4" cy="551.0" rx="13.95" ry="8.90"/><ellipse cx="662.2" cy="551.6" rx="13.95" ry="8.90"/><ellipse cx="459.6" cy="542.4" rx="13.95" ry="8.90"/><ellipse cx="422.0" cy="547.6" rx="13.95" ry="8.90"/><ellipse cx="444.2" cy="559.1" rx="13.95" ry="8.90"/><ellipse cx="482.5" cy="557.3" rx="13.95" ry="8.90"/><ellipse cx="511.7" cy="554.8" rx="13.95" ry="8.90"/><ellipse cx="545.2" cy="552.3" rx="13.95" ry="8.90"/><ellipse cx="573.4" cy="556.3" rx="13.95" ry="8.90"/><ellipse cx="610.3" cy="557.5" rx="13.95" ry="8.90"/><ellipse cx="432.0" cy="579.8" rx="13.95" ry="8.90"/><ellipse cx="463.6" cy="573.4" rx="13.95" ry="8.90"/><ellipse cx="496.8" cy="577.6" rx="13.95" ry="8.90"/><ellipse cx="528.4" cy="571.0" rx="13.95" ry="8.90"/><ellipse cx="554.4" cy="575.4" rx="13.95" ry="8.90"/><ellipse cx="588.6" cy="573.2" rx="13.95" ry="8.90"/><ellipse cx="608.2" cy="584.9" rx="13.95" ry="8.90"/><ellipse cx="628.6" cy="576.1" rx="13.95" ry="8.90"/><ellipse cx="653.8" cy="578.6" rx="13.95" ry="8.90"/><ellipse cx="451.8" cy="598.6" rx="13.95" ry="8.90"/><ellipse cx="478.7" cy="593.0" rx="13.95" ry="8.90"/><ellipse cx="515.5" cy="593.0" rx="13.95" ry="8.90"/><ellipse cx="540.8" cy="596.0" rx="13.95" ry="8.90"/><ellipse cx="568.7" cy="592.4" rx="13.95" ry="8.90"/><ellipse cx="592.3" cy="600.6" rx="13.95" ry="8.90"/><ellipse cx="634.4" cy="602.4" rx="13.95" ry="8.90"/><ellipse cx="612.2" cy="614.6" rx="13.95" ry="8.90"/><ellipse cx="498.1" cy="609.0" rx="13.95" ry="8.90"/><ellipse cx="473.6" cy="620.6" rx="13.95" ry="8.90"/><ellipse cx="523.4" cy="617.9" rx="13.95" ry="8.90"/><ellipse cx="550.5" cy="617.9" rx="13.95" ry="8.90"/><ellipse cx="575.3" cy="618.1" rx="13.95" ry="8.90"/><ellipse cx="594.0" cy="634.6" rx="13.95" ry="8.90"/><ellipse cx="502.1" cy="635.8" rx="13.95" ry="8.90"/><ellipse cx="530.8" cy="642.7" rx="13.95" ry="8.90"/><ellipse cx="561.5" cy="642.7" rx="13.95" ry="8.90"/><ellipse cx="109.3" cy="712.8" rx="13.95" ry="8.90"/><ellipse cx="158.3" cy="713.2" rx="13.95" ry="8.90"/><ellipse cx="207.4" cy="712.7" rx="13.95" ry="8.90"/></g>
<g font-size="6.6px" fill="#000" text-anchor="middle" stroke="#000" stroke-width="0.1" letter-spacing="0.4"><text transform="translate(84.6,414.7) scale(0.8,1)">IL18R1</text><text transform="translate(113.5,408.2) scale(0.8,1)">PALM</text><text transform="translate(143.5,409.8) scale(0.8,1)">CEND1</text><text transform="translate(171.1,421.0) scale(0.8,1)">CLEC4A</text><text transform="translate(59.0,432.4) scale(0.8,1)">MAN2B2</text><text transform="translate(109.4,435.8) scale(0.8,1)">ARSA</text><text transform="translate(137.8,435.1) scale(0.8,1)">APOF</text><text transform="translate(83.0,444.5) scale(0.8,1)">PLA2G10</text><text transform="translate(168.0,449.7) scale(0.8,1)">VNN1</text><text transform="translate(195.3,441.0) scale(0.8,1)">ANGPTL3</text><text transform="translate(39.8,453.5) scale(0.8,1)">CSNK2A1</text><text transform="translate(113.4,463.9) scale(0.8,1)">BRK1</text><text transform="translate(140.4,463.9) scale(0.8,1)">FGFBP1</text><text transform="translate(60.0,469.8) scale(0.8,1)">COQ7</text><text transform="translate(87.1,469.8) scale(0.8,1)">VWA1</text><text transform="translate(203.5,467.6) scale(0.8,1)">APOA2</text><text transform="translate(170.6,477.2) scale(0.8,1)">SNAP25</text><text transform="translate(29.0,479.0) scale(0.8,1)">CREG1</text><text transform="translate(197.1,494.4) scale(0.8,1)">TCTN3</text><text transform="translate(46.1,500.2) scale(0.8,1)">GFAP</text><text transform="translate(69.7,498.9) scale(0.8,1)">CD99L2</text><text transform="translate(94.5,497.6) scale(0.8,1)">RP2</text><text transform="translate(23.4,511.5) scale(0.8,1)">SGSH</text><text transform="translate(173.4,512.8) scale(0.8,1)">CTSF</text><text transform="translate(49.3,529.8) scale(0.8,1)">AFM</text><text transform="translate(77.5,525.4) scale(0.8,1)">AGR3</text><text transform="translate(195.8,528.5) scale(0.8,1)">ERN1</text><text transform="translate(26.2,544.6) scale(0.8,1)">SMPDL3A</text><text transform="translate(100.1,539.9) scale(0.8,1)">IFNGR2</text><text transform="translate(155.8,544.9) scale(0.8,1)">CES1</text><text transform="translate(70.7,551.1) scale(0.8,1)">PDGFC</text><text transform="translate(184.5,553.4) scale(0.8,1)">HMOX2</text><text transform="translate(47.6,564.6) scale(0.8,1)">GHR</text><text transform="translate(127.2,558.4) scale(0.8,1)">CTSZ</text><text transform="translate(97.9,565.6) scale(0.8,1)">APOE</text><text transform="translate(163.7,573.8) scale(0.8,1)">IGSF9</text><text transform="translate(195.3,578.5) scale(0.8,1)">CDHR2</text><text transform="translate(73.8,579.6) scale(0.8,1)">MENT</text><text transform="translate(111.6,586.6) scale(0.8,1)">ENPP7</text><text transform="translate(138.9,583.8) scale(0.8,1)">IL32</text><text transform="translate(46.4,597.1) scale(0.8,1)">IDUA</text><text transform="translate(172.7,601.6) scale(0.8,1)">CPQ</text><text transform="translate(86.2,603.2) scale(0.8,1)">PLA2G7</text><text transform="translate(143.5,610.8) scale(0.8,1)">BPIFB2</text><text transform="translate(114.4,614.6) scale(0.8,1)">APOA1</text><text transform="translate(244.9,499.4) scale(0.8,1)">SMPD1</text><text transform="translate(231.7,522.4) scale(0.8,1)">GLB1</text><text transform="translate(251.6,532.9) scale(0.8,1)">CTBS</text><text transform="translate(235.6,555.1) scale(0.8,1)">NAAA</text><text transform="translate(316.9,474.7) scale(0.8,1)">AGRP</text><text transform="translate(313.6,569.4) scale(0.8,1)">TNFRSF17</text><text transform="translate(350.9,573.8) scale(0.8,1)">TNFRSF13B</text><text transform="translate(278.0,582.4) scale(0.8,1)">CEACAM8</text><text transform="translate(361.2,600.6) scale(0.8,1)">HSD11B1</text><text transform="translate(259.6,610.4) scale(0.8,1)">DSG4</text><text transform="translate(388.5,612.5) scale(0.8,1)">LRRC37A2</text><text transform="translate(263.4,642.4) scale(0.8,1)">RNASE3</text><text transform="translate(362.5,640.1) scale(0.8,1)">CLC</text><text transform="translate(392.7,645.5) scale(0.8,1)">ICAM5</text><text transform="translate(271.3,662.9) scale(0.8,1)">FCRL5</text><text transform="translate(304.9,665.9) scale(0.8,1)">ADGRE1</text><text transform="translate(342.6,662.9) scale(0.8,1)">CLEC4C</text><text transform="translate(378.4,673.1) scale(0.8,1)">FCRL2</text><text transform="translate(281.1,690.4) scale(0.8,1)">SCGB1A1</text><text transform="translate(320.8,695.6) scale(0.8,1)">TFRC</text><text transform="translate(353.6,690.8) scale(0.8,1)">GGH</text><text transform="translate(395.5,574.0) scale(0.8,1)">SFTPD</text><text transform="translate(526.0,389.2) scale(0.8,1)">AIF1</text><text transform="translate(552.4,393.0) scale(0.8,1)">MRC1</text><text transform="translate(493.9,397.9) scale(0.8,1)">C4BPB</text><text transform="translate(577.8,401.2) scale(0.8,1)">CXCL10</text><text transform="translate(606.5,405.7) scale(0.8,1)">GZMA</text><text transform="translate(472.5,412.2) scale(0.8,1)">IL15</text><text transform="translate(517.7,411.2) scale(0.8,1)">CXCL13</text><text transform="translate(554.9,412.9) scale(0.8,1)">WASL</text><text transform="translate(455.0,429.2) scale(0.8,1)">NENF</text><text transform="translate(496.9,427.1) scale(0.8,1)">KIR2DL2</text><text transform="translate(523.6,435.2) scale(0.8,1)">TDP1</text><text transform="translate(545.1,430.2) scale(0.8,1)">FGFR4</text><text transform="translate(590.9,426.5) scale(0.8,1)">TYRP1</text><text transform="translate(608.7,437.4) scale(0.8,1)">IL1R2</text><text transform="translate(638.2,425.2) scale(0.8,1)">LILRB4</text><text transform="translate(433.3,443.2) scale(0.8,1)">CCL21</text><text transform="translate(475.2,442.2) scale(0.8,1)">CNTNAP4</text><text transform="translate(574.1,438.5) scale(0.8,1)">IGFBP7</text><text transform="translate(499.8,450.7) scale(0.8,1)">LTA</text><text transform="translate(547.8,450.7) scale(0.8,1)">GIGYF2</text><text transform="translate(522.5,457.6) scale(0.8,1)">SEPTIN3</text><text transform="translate(593.7,456.5) scale(0.8,1)">DSCAM</text><text transform="translate(625.2,451.7) scale(0.8,1)">RBPMS</text><text transform="translate(650.0,456.7) scale(0.8,1)">PAFAH1B3</text><text transform="translate(463.5,457.7) scale(0.8,1)">DKO</text><text transform="translate(567.2,463.6) scale(0.8,1)">NFATC3</text><text transform="translate(423.9,470.8) scale(0.8,1)">LTB</text><text transform="translate(447.5,472.1) scale(0.8,1)">PALM3</text><text transform="translate(482.7,473.2) scale(0.8,1)">IL6</text><text transform="translate(504.3,478.5) scale(0.8,1)">ADGRF5</text><text transform="translate(549.0,474.4) scale(0.8,1)">PLAUR</text><text transform="translate(528.1,484.2) scale(0.8,1)">CSNK1D</text><text transform="translate(587.0,479.4) scale(0.8,1)">MAN1A2</text><text transform="translate(616.0,473.6) scale(0.8,1)">IL12RB2</text><text transform="translate(638.1,481.9) scale(0.8,1)">AGER</text><text transform="translate(666.0,481.1) scale(0.8,1)">MCTS1</text><text transform="translate(415.7,496.4) scale(0.8,1)">MAPRE3</text><text transform="translate(442.0,496.9) scale(0.8,1)">CD80</text><text transform="translate(467.2,491.8) scale(0.8,1)">FCRL1</text><text transform="translate(502.9,503.0) scale(0.8,1)">CD4</text><text transform="translate(567.2,495.0) scale(0.8,1)">CR2</text><text transform="translate(606.4,495.0) scale(0.8,1)">CPVL</text><text transform="translate(629.3,505.0) scale(0.8,1)">HLA-DRA</text><text transform="translate(655.6,505.4) scale(0.8,1)">PLXDC2</text><text transform="translate(481.4,508.8) scale(0.8,1)">TXNL1</text><text transform="translate(585.4,509.9) scale(0.8,1)">HLAE</text><text transform="translate(605.6,517.8) scale(0.8,1)">UGDH</text><text transform="translate(670.8,525.6) scale(0.8,1)">TNKB</text><text transform="translate(645.1,528.5) scale(0.8,1)">CSDE1</text><text transform="translate(412.7,523.0) scale(0.8,1)">ROBO1</text><text transform="translate(437.4,525.8) scale(0.8,1)">LAMB1</text><text transform="translate(458.4,518.1) scale(0.8,1)">SELE</text><text transform="translate(480.0,532.8) scale(0.8,1)">PDZK1</text><text transform="translate(507.0,532.8) scale(0.8,1)">ISM1</text><text transform="translate(572.7,533.1) scale(0.8,1)">CDCP1</text><text transform="translate(621.6,534.1) scale(0.8,1)">CX3CL1</text><text transform="translate(596.6,541.8) scale(0.8,1)">LRPAP1</text><text transform="translate(634.6,553.4) scale(0.8,1)">DCUN1D1</text><text transform="translate(662.4,554.0) scale(0.8,1)">EFCAB14</text><text transform="translate(459.8,544.8) scale(0.8,1)">SDK2</text><text transform="translate(422.2,550.0) scale(0.8,1)">CCL28</text><text transform="translate(444.4,561.5) scale(0.8,1)">CLEC10A</text><text transform="translate(482.7,559.6) scale(0.8,1)">MLN</text><text transform="translate(511.9,557.1) scale(0.8,1)">B4GALT1</text><text transform="translate(545.4,554.6) scale(0.8,1)">TP53BP1</text><text transform="translate(573.6,558.6) scale(0.8,1)">RNASET2</text><text transform="translate(610.5,559.9) scale(0.8,1)">FCRL6</text><text transform="translate(432.2,582.1) scale(0.8,1)">MST1</text><text transform="translate(463.8,575.8) scale(0.8,1)">OPCT</text><text transform="translate(497.0,580.0) scale(0.8,1)">CCL19</text><text transform="translate(528.6,573.4) scale(0.8,1)">SPINT1</text><text transform="translate(554.6,577.8) scale(0.8,1)">FCER2</text><text transform="translate(588.8,575.6) scale(0.8,1)">LIFR</text><text transform="translate(608.4,587.2) scale(0.8,1)">TNFRSF4</text><text transform="translate(628.8,578.5) scale(0.8,1)">CD22</text><text transform="translate(654.0,581.0) scale(0.8,1)">CD207</text><text transform="translate(452.0,601.0) scale(0.8,1)">CSF1R</text><text transform="translate(478.9,595.4) scale(0.8,1)">HLAA</text><text transform="translate(515.7,595.4) scale(0.8,1)">CAPS</text><text transform="translate(541.0,598.4) scale(0.8,1)">KIR2DL3</text><text transform="translate(568.9,594.8) scale(0.8,1)">NHLRC3</text><text transform="translate(592.5,603.0) scale(0.8,1)">FRZB</text><text transform="translate(634.6,604.8) scale(0.8,1)">MANSC1</text><text transform="translate(612.4,617.0) scale(0.8,1)">STAB2</text><text transform="translate(498.3,611.4) scale(0.8,1)">IL6R</text><text transform="translate(473.8,623.0) scale(0.8,1)">CTSC</text><text transform="translate(523.6,620.2) scale(0.8,1)">MERTK</text><text transform="translate(550.7,620.2) scale(0.8,1)">CDSN</text><text transform="translate(575.5,620.5) scale(0.8,1)">SIGLEC6</text><text transform="translate(594.2,637.0) scale(0.8,1)">NPTX1</text><text transform="translate(502.3,638.1) scale(0.8,1)">TRAF3</text><text transform="translate(531.0,645.1) scale(0.8,1)">SIGLEC10</text><text transform="translate(561.7,645.1) scale(0.8,1)">IFNL1</text><text transform="translate(109.5,715.1) scale(0.8,1)">LGALS3</text><text transform="translate(158.5,715.6) scale(0.8,1)">HIP1R</text><text transform="translate(207.6,715.1) scale(0.8,1)">EFNA1</text></g>
<rect x="110.9" y="497.1" width="42.5" height="18.1" rx="2.8" fill="#fff" stroke="#4A93CF" stroke-width="1.5"/><text transform="translate(132.2,509.6) scale(0.845,1)" text-anchor="middle" font-size="9.2px" fill="#404040">rs6857</text><rect x="292.8" y="612.9" width="42.5" height="18.1" rx="2.8" fill="#fff" stroke="#4A93CF" stroke-width="1.5"/><text transform="translate(314.0,625.3) scale(0.845,1)" text-anchor="middle" font-size="9.2px" fill="#404040">rs4630591</text><rect x="518.0" y="506.2" width="42.5" height="18.1" rx="2.8" fill="#fff" stroke="#4A93CF" stroke-width="1.5"/><text transform="translate(539.2,518.6) scale(0.845,1)" text-anchor="middle" font-size="9.2px" fill="#404040">rs2760980</text><rect x="1.5" y="621.5" width="42.0" height="18.5" rx="2.8" fill="#fff" stroke="#4A93CF" stroke-width="1.5"/><text transform="translate(22.5,634.1) scale(0.845,1)" text-anchor="middle" font-size="9.2px" fill="#404040">rs34311866</text><rect x="87.0" y="651.6" width="42.5" height="18.1" rx="2.8" fill="#fff" stroke="#4A93CF" stroke-width="1.5"/><text transform="translate(108.2,664.0) scale(0.845,1)" text-anchor="middle" font-size="9.2px" fill="#404040">rs2183082</text><rect x="137.2" y="651.6" width="42.5" height="18.1" rx="2.8" fill="#fff" stroke="#4A93CF" stroke-width="1.5"/><text transform="translate(158.4,664.0) scale(0.845,1)" text-anchor="middle" font-size="9.2px" fill="#404040">rs10847839</text><rect x="185.8" y="650.8" width="42.5" height="18.1" rx="2.8" fill="#fff" stroke="#4A93CF" stroke-width="1.5"/><text transform="translate(207.1,663.2) scale(0.845,1)" text-anchor="middle" font-size="9.2px" fill="#404040">rs2230288</text>
</svg>
</body></html>
